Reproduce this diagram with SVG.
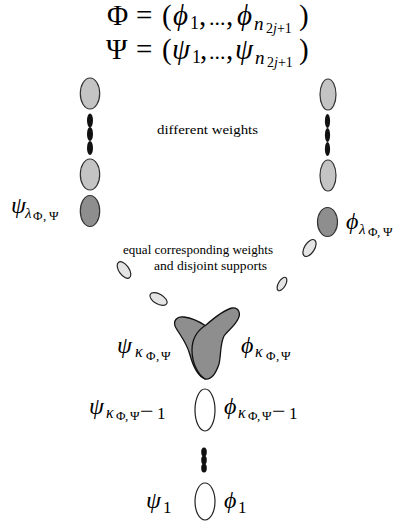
<svg xmlns="http://www.w3.org/2000/svg" width="394" height="527" viewBox="0 0 394 527">
<style>
.t{font-family:"Liberation Serif","DejaVu Serif",serif;fill:#000}
.i{font-style:italic}
.light{fill:#c4c4c4;stroke:#333;stroke-width:1.2}
.dark{fill:#8e8e8e;stroke:#333;stroke-width:1.2}
.small{fill:#e4e4e4;stroke:#222;stroke-width:1.2}
.white{fill:#fff;stroke:#222;stroke-width:1.2}
.dot{fill:#111}
.v{fill:#8e8e8e;stroke:#111;stroke-width:1.3}
</style>
<rect width="394" height="527" fill="#fff"/>

<g id="title">
<text class="t" font-size="29" y="25"><tspan x="107">Φ</tspan><tspan x="136">=</tspan><tspan x="162">(</tspan><tspan x="173" class="i">ϕ</tspan><tspan x="190" y="29" font-size="18">1</tspan><tspan x="199" y="25">,</tspan><tspan x="209" font-size="22">...</tspan><tspan x="226">,</tspan><tspan x="237" class="i">ϕ</tspan><tspan x="254" y="30" font-size="19" class="i">n</tspan><tspan x="266" y="33" font-size="14">2<tspan class="i">j</tspan>+1</tspan><tspan x="299" y="25">)</tspan></text>
<text class="t" font-size="29" y="59"><tspan x="106">Ψ</tspan><tspan x="136">=</tspan><tspan x="162">(</tspan><tspan x="172" class="i">ψ</tspan><tspan x="192" y="63" font-size="18">1</tspan><tspan x="200" y="59">,</tspan><tspan x="209" font-size="22">...</tspan><tspan x="226">,</tspan><tspan x="235" class="i">ψ</tspan><tspan x="255" y="64" font-size="19" class="i">n</tspan><tspan x="267" y="67" font-size="14">2<tspan class="i">j</tspan>+1</tspan><tspan x="299" y="59">)</tspan></text>
</g>

<g id="left-column">
<ellipse class="light" cx="90" cy="93.5" rx="9.7" ry="15.5"/>
<ellipse class="dot" cx="90" cy="120.5" rx="3" ry="7"/>
<ellipse class="dot" cx="90" cy="134" rx="3" ry="7"/>
<ellipse class="dot" cx="90" cy="148" rx="3" ry="7"/>
<ellipse class="light" cx="90" cy="174.5" rx="9.7" ry="15.5"/>
</g>
<g id="left-lambda">
<ellipse class="dark" cx="90" cy="211" rx="9.7" ry="15.5"/>
<text class="t" font-size="24" y="213"><tspan x="11" class="i">ψ</tspan><tspan x="25" y="218" font-size="15" class="i">λ</tspan><tspan x="33 43 49" y="220" font-size="13">Φ,Ψ</tspan></text>
</g>

<g id="right-column">
<ellipse class="light" cx="328" cy="94.5" rx="8" ry="15.5"/>
<ellipse class="dot" cx="327.5" cy="121" rx="2.6" ry="7"/>
<ellipse class="dot" cx="327.5" cy="135" rx="2.6" ry="7"/>
<ellipse class="dot" cx="327.5" cy="149" rx="2.6" ry="7"/>
<ellipse class="light" cx="328" cy="175.5" rx="8" ry="15.5"/>
</g>
<g id="right-lambda">
<ellipse class="dark" cx="327.5" cy="222" rx="10" ry="14.5"/>
<text class="t" font-size="24" y="229"><tspan x="346" class="i">ϕ</tspan><tspan x="359" y="234" font-size="15" class="i">λ</tspan><tspan x="368 377 383" y="236" font-size="13">Φ,Ψ</tspan></text>
</g>

<g id="labels">
<text class="t" font-size="12" x="157" y="134" textLength="101" lengthAdjust="spacingAndGlyphs">different weights</text>
<text class="t" font-size="12" x="123" y="254" textLength="150" lengthAdjust="spacingAndGlyphs">equal corresponding weights</text>
<text class="t" font-size="12" x="154" y="270" textLength="113" lengthAdjust="spacingAndGlyphs">and disjoint supports</text>
</g>

<g id="small-ellipses">
<ellipse class="small" cx="124" cy="270" rx="9.5" ry="5" transform="rotate(55 124 270)"/>
<ellipse class="small" cx="158.5" cy="299" rx="9.5" ry="5" transform="rotate(30 158.5 299)"/>
<ellipse class="small" cx="309.5" cy="248" rx="9.5" ry="5" transform="rotate(-58 309.5 248)"/>
<ellipse class="small" cx="282" cy="284" rx="7.5" ry="3.6" transform="rotate(-60 282 284)"/>
</g>

<g id="kappa">
<path class="v" d="M205,379 C198,376 193,366 190,355 C187,343 180,335 176,328 C172,321 177,316 184,317 C192,318 200,322 206,326 C214,333 218,348 214,362 C211,372 208,378 205,379 Z"/>
<path class="v" d="M205,379 C197,374 192,362 192,350 C192,338 198,330 206,325 C214,318 224,310 232,308 C239,307 241,314 238,319 C235,326 228,330 224,336 C220,344 221,356 219,364 C216,373 211,380 205,379 Z"/>
<text class="t" font-size="24" y="353"><tspan x="117" class="i">ψ</tspan><tspan x="135" y="357" font-size="16" class="i">κ</tspan><tspan x="146 156 161" y="360" font-size="13">Φ,Ψ</tspan></text>
<text class="t" font-size="24" y="353"><tspan x="241" class="i">ϕ</tspan><tspan x="255" y="357" font-size="16" class="i">κ</tspan><tspan x="266 276 281" y="360" font-size="13">Φ,Ψ</tspan></text>
</g>

<g id="kappa-minus-1">
<ellipse class="white" cx="205" cy="410" rx="10" ry="21"/>
<text class="t" font-size="24" y="414"><tspan x="89" class="i">ψ</tspan><tspan x="106" y="418" font-size="16" class="i">κ</tspan><tspan x="116 125 130" y="420" font-size="13">Φ,Ψ</tspan><tspan x="140" y="419" font-size="24">−</tspan><tspan x="157" y="419" font-size="17">1</tspan></text>
<text class="t" font-size="24" y="414"><tspan x="224" class="i">ϕ</tspan><tspan x="238" y="418" font-size="16" class="i">κ</tspan><tspan x="248 257 262" y="420" font-size="13">Φ,Ψ</tspan><tspan x="272" y="419" font-size="24">−</tspan><tspan x="289" y="419" font-size="17">1</tspan></text>
</g>

<g id="bottom-dots">
<ellipse class="dot" cx="204" cy="452" rx="2.8" ry="4.5"/>
<ellipse class="dot" cx="204" cy="460" rx="2.8" ry="4.5"/>
<ellipse class="dot" cx="204" cy="468" rx="2.8" ry="4.5"/>
</g>

<g id="one">
<ellipse class="white" cx="205" cy="501.5" rx="10" ry="18.5"/>
<text class="t" font-size="24" y="508"><tspan x="146" class="i">ψ</tspan><tspan x="163" y="513" font-size="17">1</tspan></text>
<text class="t" font-size="24" y="508"><tspan x="224" class="i">ϕ</tspan><tspan x="238" y="513" font-size="17">1</tspan></text>
</g>

<g id="connectors"/>
</svg>
